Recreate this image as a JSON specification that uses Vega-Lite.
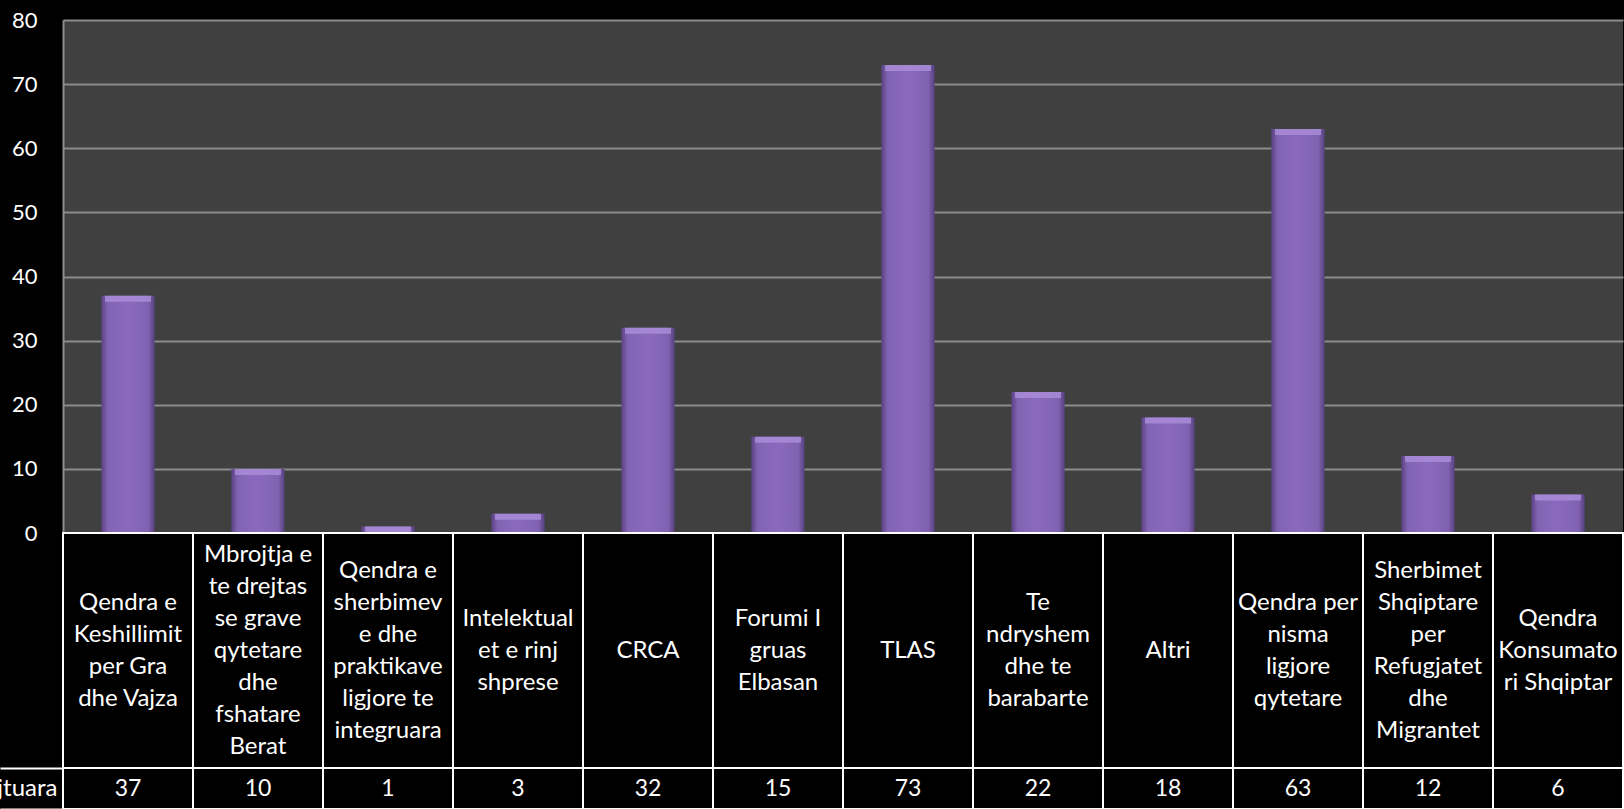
{
  "$schema": "https://vega.github.io/schema/vega-lite/v6.json",
  "background": "black",
  "autosize": {"type": "pad"},
  "padding": {"left": -125, "top": 9, "right": 0, "bottom": 0},
  "spacing": 0,
  "bounds": "flush",
  "config": {
    "view": {"stroke": null},
    "font": "Lato",
    "text": {"font": "Lato"}
  },
  "datasets": {
    "orgs": [
      {"org": "Qendra e\nKeshillimit\nper Gra\ndhe Vajza", "count": 37},
      {"org": "Mbrojtja e\nte drejtas\nse grave\nqytetare\ndhe\nfshatare\nBerat", "count": 10},
      {"org": "Qendra e\nsherbimev\ne dhe\npraktikave\nligjore te\nintegruara", "count": 1},
      {"org": "Intelektual\net e rinj\nshprese", "count": 3},
      {"org": "CRCA", "count": 32},
      {"org": "Forumi I\ngruas\nElbasan", "count": 15},
      {"org": "TLAS", "count": 73},
      {"org": "Te\nndryshem\ndhe te\nbarabarte", "count": 22},
      {"org": "Altri", "count": 18},
      {"org": "Qendra per\nnisma\nligjore\nqytetare", "count": 63},
      {"org": "Sherbimet\nShqiptare\nper\nRefugjatet\ndhe\nMigrantet", "count": 12},
      {"org": "Qendra\nKonsumato\nri Shqiptar", "count": 6}
    ]
  },
  "vconcat": [
    {
      "width": 1560,
      "height": 513,
      "view": {"fill": "#404040", "stroke": null},
      "data": {"name": "orgs"},
      "encoding": {
        "x": {"field": "org", "type": "nominal", "sort": null, "scale": {"paddingInner": 0, "paddingOuter": 0}, "axis": null},
        "y": {
          "field": "count", "type": "quantitative",
          "scale": {"domain": [0, 80], "nice": false},
          "axis": {
            "values": [0, 10, 20, 30, 40, 50, 60, 70, 80],
            "grid": true, "gridColor": "#8c8c8c", "gridWidth": 2,
            "domainColor": "#8c8c8c", "domainWidth": 2,
            "ticks": false, "labelColor": "white", "labelFontSize": 22,
            "labelFont": "Lato", "labelPadding": 26, "title": null
          }
        }
      },
      "layer": [
        {
          "mark": {
            "type": "bar",
            "width": {"band": 0.41},
            "color": {
              "gradient": "linear", "x1": 0, "y1": 0, "x2": 1, "y2": 0,
              "stops": [
                {"offset": 0, "color": "#5a4282"},
                {"offset": 0.12, "color": "#8264b4"},
                {"offset": 0.5, "color": "#8a6abe"},
                {"offset": 0.88, "color": "#8062b1"},
                {"offset": 1, "color": "#56407c"}
              ]
            }
          }
        },
        {
          "mark": {"type": "tick", "color": "#a98cd8", "size": 46, "thickness": 6, "yOffset": 3, "opacity": 0.85}
        }
      ]
    },
    {
      "width": 1560,
      "height": 235,
      "data": {"name": "orgs"},
      "encoding": {
        "x": {"field": "org", "type": "nominal", "sort": null, "scale": {"paddingInner": 0, "paddingOuter": 0}, "axis": null}
      },
      "layer": [
        {"mark": {"type": "rect", "fill": "black", "stroke": "white", "strokeWidth": 2}},
        {
          "mark": {
            "type": "text", "color": "white", "fontSize": 24, "lineBreak": "\n", "lineHeight": 32,
            "baseline": "middle", "align": "center",
            "dy": {"expr": "-(length(split(datum.org, '\\n')) - 1) * 16"}
          },
          "encoding": {"text": {"field": "org"}}
        }
      ]
    },
    {
      "width": 1560,
      "height": 41,
      "data": {"name": "orgs"},
      "encoding": {
        "x": {"field": "org", "type": "nominal", "sort": null, "scale": {"paddingInner": 0, "paddingOuter": 0}, "axis": null},
        "y": {
          "datum": "Rastet e trajtuara", "type": "nominal",
          "scale": {"paddingInner": 0, "paddingOuter": 0},
          "axis": {
            "title": null, "domain": false, "ticks": true, "tickBand": "extent",
            "tickSize": 63, "tickColor": "white", "tickWidth": 2,
            "labelColor": "white", "labelFontSize": 24, "labelFont": "Lato", "labelLimit": 400,
            "labelPadding": -57, "labelAlign": "right", "labelBaseline": "middle"
          }
        }
      },
      "layer": [
        {"mark": {"type": "rect", "fill": "black", "stroke": "white", "strokeWidth": 2}},
        {
          "mark": {"type": "text", "color": "white", "fontSize": 23, "baseline": "middle", "align": "center"},
          "encoding": {"text": {"field": "count", "type": "quantitative"}}
        }
      ]
    }
  ]
}
